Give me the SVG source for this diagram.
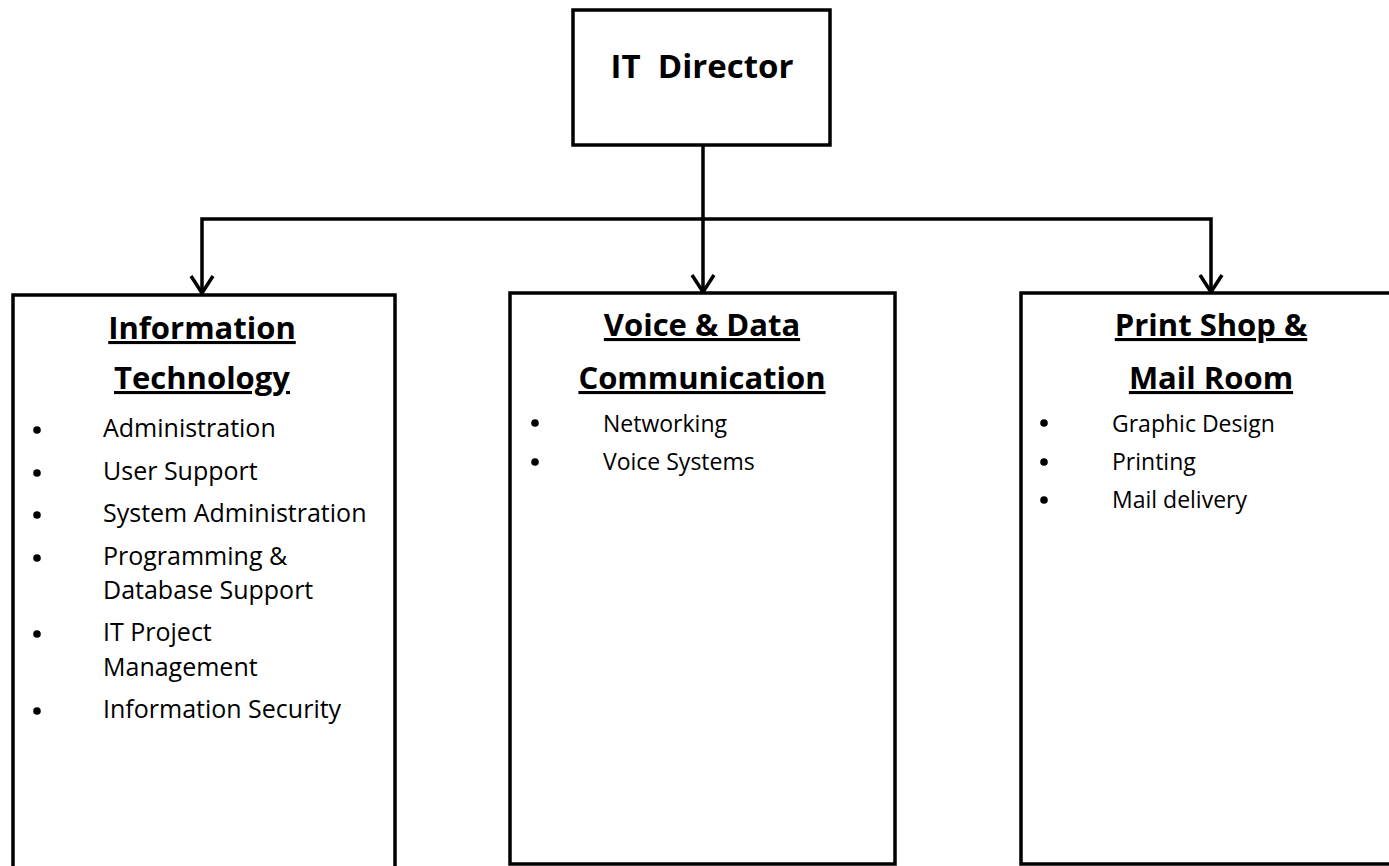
<svg xmlns="http://www.w3.org/2000/svg" width="1389" height="866" viewBox="0 0 1389 866">
<style>
.box{fill:#fff;stroke:#000;stroke-width:3.5}
.ln{fill:none;stroke:#000;stroke-width:3.5}
.hd{font-family:"Open Sans","Liberation Sans",sans-serif;font-weight:bold;font-size:31px;text-anchor:middle;text-decoration:underline}
.it{font-family:"Open Sans","Liberation Sans",sans-serif;font-size:23px}
.itl{font-family:"Open Sans","Liberation Sans",sans-serif;font-size:25px}
.ttl{font-family:"Open Sans","Liberation Sans",sans-serif;font-weight:bold;font-size:33px;text-anchor:middle}
</style>
<defs>
<circle id="b" r="3.8" fill="#000"/>
</defs>
<rect width="1389" height="866" fill="#fff"/>
<g id="connectors">
<line class="ln" x1="703" y1="145" x2="703" y2="219"/>
<polyline class="ln" points="202,293 202,219 1211,219 1211,292"/>
<path class="ln" d="M191 276 L202 293 L213 276 M692 275 L703 292 L714 275 M1200 275 L1211 292 L1222 275"/>
<line class="ln" x1="703" y1="219" x2="703" y2="291"/>
</g>
<g id="it-director">
<rect class="box" x="573" y="10" width="257" height="135"/>
<text class="ttl" x="702" y="78" xml:space="preserve">IT  Director</text>
</g>
<g id="information-technology">
<path class="box" d="M13 870 L13 295 L395 295 L395 870"/>
<text class="hd" x="202" y="339">Information</text>
<text class="hd" x="202" y="389">Technology</text>
<g class="itl">
<use href="#b" x="37" y="430"/><text x="103" y="437">Administration</text>
<use href="#b" x="37" y="473"/><text x="103" y="480">User Support</text>
<use href="#b" x="37" y="515"/><text x="103" y="522">System Administration</text>
<use href="#b" x="37" y="558"/><text x="103" y="565">Programming &amp;</text>
<text x="103" y="599">Database Support</text>
<use href="#b" x="37" y="634"/><text x="103" y="641">IT Project</text>
<text x="103" y="676">Management</text>
<use href="#b" x="37" y="711"/><text x="103" y="718">Information Security</text>
</g>
</g>
<g id="voice-data">
<rect class="box" x="510" y="293" width="385" height="571"/>
<text class="hd" x="702" y="336">Voice &amp; Data</text>
<text class="hd" x="702" y="389">Communication</text>
<g class="it">
<use href="#b" x="535" y="423"/><text x="603" y="432">Networking</text>
<use href="#b" x="535" y="462"/><text x="603" y="470">Voice Systems</text>
</g>
</g>
<g id="print-shop">
<path class="box" d="M1395 293 L1021 293 L1021 864 L1395 864"/>
<text class="hd" x="1211" y="336">Print Shop &amp;</text>
<text class="hd" x="1211" y="389">Mail Room</text>
<g class="it">
<use href="#b" x="1044" y="423"/><text x="1112" y="432">Graphic Design</text>
<use href="#b" x="1044" y="462"/><text x="1112" y="470">Printing</text>
<use href="#b" x="1044" y="500"/><text x="1112" y="508">Mail delivery</text>
</g>
</g>
</svg>
